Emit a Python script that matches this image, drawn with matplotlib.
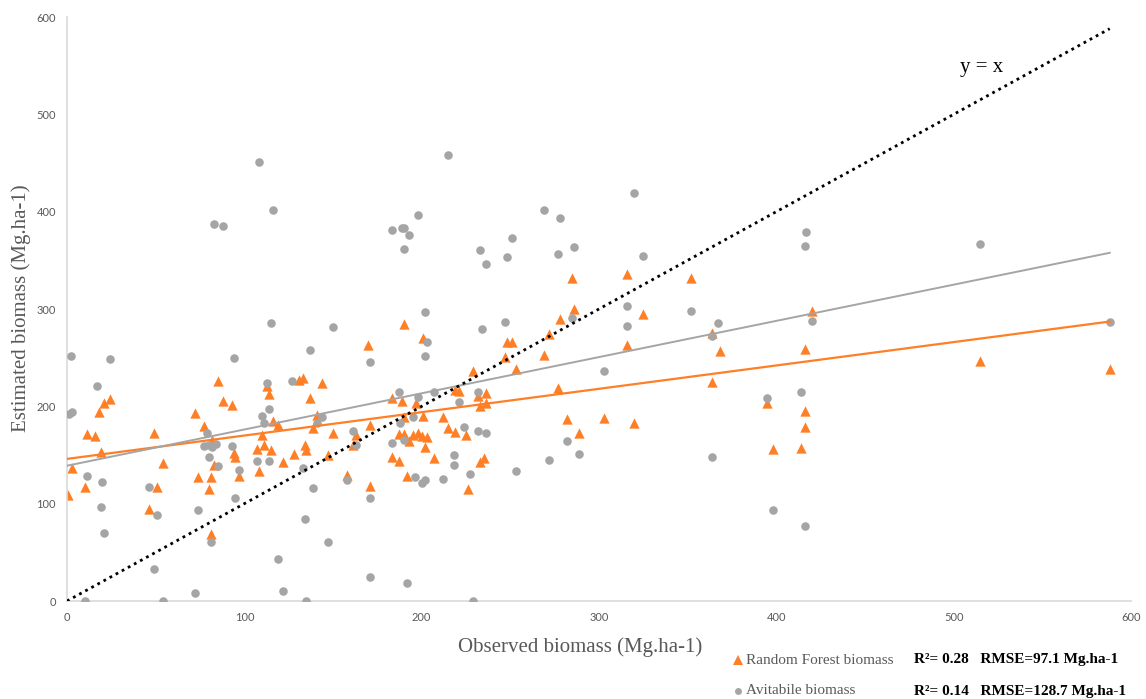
import numpy as np
import matplotlib
matplotlib.use("Agg")
import matplotlib.pyplot as plt
from matplotlib.lines import Line2D

# Random Forest estimates vs observed biomass (Mg/ha)
rf_obs = [0.5, 3, 10, 11, 16, 18, 19, 21, 24, 46, 49, 51, 54, 72, 74, 77, 80, 81, 81, 82,
          83, 85, 88, 93, 94, 95, 97, 107, 108, 110, 111, 113, 114, 115, 116, 119, 122, 128, 131, 133,
          134, 135, 137, 139, 141, 144, 147, 150, 158, 161, 163, 170, 171, 171, 183, 183, 187, 187, 189, 190,
          190, 190, 192, 193, 195, 197, 198, 200, 201, 201, 203, 202, 207, 212, 215, 219, 219, 221, 225, 226,
          229, 232, 233, 235, 233, 236, 236, 247, 248, 251, 253, 269, 272, 277, 278, 282, 285, 286, 289, 303,
          316, 316, 320, 325, 352, 364, 368, 364, 395, 398, 414, 416, 416, 416, 420, 515, 588]
rf_est = [109, 137, 117, 172, 170, 194, 153, 203, 208, 95, 173, 117, 142, 193, 127, 180, 115, 127, 69, 165,
          140, 226, 205, 201, 152, 148, 128, 156, 134, 171, 160, 221, 213, 155, 185, 181, 143, 151, 227, 229,
          160, 155, 209, 178, 191, 224, 150, 173, 129, 160, 171, 263, 181, 118, 148, 209, 144, 172, 205, 285,
          172, 189, 128, 164, 171, 203, 173, 170, 270, 190, 169, 158, 147, 189, 178, 174, 217, 216, 171, 115,
          236, 211, 143, 147, 200, 203, 214, 251, 266, 266, 238, 253, 274, 219, 290, 187, 332, 300, 173, 188,
          336, 263, 183, 295, 332, 275, 257, 225, 203, 156, 157, 179, 195, 259, 298, 247, 238]

# Avitabile map estimates vs observed biomass
av_obs = [2, 24, 17, 1, 3, 11, 20, 19, 21, 10, 46, 51, 49, 54, 72, 74, 79, 77, 80, 82,
          84, 80, 81, 85, 94, 93, 95, 97, 107, 110, 111, 113, 114, 114, 127, 119, 122, 108, 116, 83,
          88, 115, 150, 137, 133, 139, 144, 141, 158, 161, 163, 171, 183, 187, 188, 190, 196, 198, 195, 134,
          147, 135, 171, 171, 192, 200, 202, 202, 203, 207, 212, 218, 218, 221, 224, 227, 229, 232, 232, 236,
          234, 253, 272, 215, 198, 183, 189, 190, 193, 190, 202, 233, 236, 248, 251, 269, 278, 277, 286, 247,
          285, 316, 316, 320, 325, 352, 282, 289, 303, 364, 364, 395, 398, 414, 416, 367, 417, 416, 420, 515,
          588]
av_est = [252, 249, 221, 192, 194, 128, 122, 97, 70, 0, 117, 88, 33, 0, 8, 93, 173, 159, 160, 158,
          161, 148, 61, 139, 250, 159, 106, 135, 144, 190, 183, 224, 197, 144, 226, 43, 10, 451, 402, 387,
          385, 286, 281, 258, 137, 116, 189, 183, 124, 175, 160, 246, 162, 215, 183, 165, 127, 210, 189, 84,
          61, 0, 106, 25, 18, 121, 124, 252, 266, 215, 125, 150, 140, 204, 179, 130, 0, 215, 175, 173,
          279, 134, 145, 458, 397, 381, 383, 383, 376, 362, 297, 361, 346, 353, 373, 402, 394, 356, 364, 287,
          291, 303, 283, 419, 354, 298, 164, 151, 236, 272, 148, 209, 93, 215, 77, 286, 379, 365, 288, 367,
          287]

# linear trendlines (intercept, slope) as shown on the chart
rf_fit = (146, 0.240)
av_fit = (139, 0.372)
x_max = 588

orange = "#FF7F27"
grey = "#A5A5A5"
txt_grey = "#595959"

fig = plt.figure(figsize=(11.46, 6.99), dpi=100)
ax = fig.add_axes([67 / 1146, 98 / 699, 1064 / 1146, 584 / 699])

ax.scatter(rf_obs, rf_est, marker="^", s=55, color=orange, linewidths=0, zorder=2)
ax.scatter(av_obs, av_est, marker="o", s=38, color=grey, linewidths=0, zorder=3)

xs = np.array([0, x_max])
ax.plot(xs, rf_fit[0] + rf_fit[1] * xs, color=orange, lw=1.6, zorder=4)
ax.plot(xs, av_fit[0] + av_fit[1] * xs, color=grey, lw=1.4, zorder=4)
ax.plot(xs, xs, color="black", lw=2, linestyle=(0, (1, 1.5)), zorder=5)
ax.text(516, 548, "y = x", fontsize=15, family="Liberation Serif", ha="center", va="center")

ax.set_xlim(0, 600)
ax.set_ylim(0, 600)
ax.set_xticks(range(0, 601, 100))
ax.set_yticks(range(0, 601, 100))
ax.tick_params(length=0, pad=8, labelsize=8, labelcolor=txt_grey)
for lab in ax.get_xticklabels() + ax.get_yticklabels():
    lab.set_family("Lato")
for side in ["top", "right"]:
    ax.spines[side].set_visible(False)
for side in ["left", "bottom"]:
    ax.spines[side].set_color("#D9D9D9")
    ax.spines[side].set_linewidth(1.2)

ax.set_xlabel("Observed biomass (Mg.ha-1)", fontsize=15, color=txt_grey,
              family="Liberation Serif", labelpad=0, va="center")
ax.xaxis.set_label_coords((580 - 67) / 1064, (601 - 647) / 584)
ax.set_ylabel("Estimated biomass (Mg.ha-1)", fontsize=15, color=txt_grey,
              family="Liberation Serif", va="center")
ax.yaxis.set_label_coords((21 - 67) / 1064, (601 - 308) / 584)

# legend rows below the plot
rows = [("^", orange, 7, "Random Forest biomass", "R²= 0.28   RMSE=97.1 Mg.ha-1", 660),
        ("o", grey, 5, "Avitabile biomass", "R²= 0.14   RMSE=128.7 Mg.ha-1", 691)]
for mk, col, ms, name, stats, py in rows:
    fy = 1 - py / 699
    fig.add_artist(Line2D([738 / 1146], [fy], marker=mk, color=col, markersize=ms,
                          markeredgewidth=0, linestyle="none", transform=fig.transFigure))
    fig.text(746 / 1146, fy, name, fontsize=11, color=txt_grey, family="Liberation Serif",
             ha="left", va="center")
    fig.text(914 / 1146, fy, stats, fontsize=11, color="black", family="Liberation Serif",
             weight="bold", ha="left", va="center")

fig.savefig("out.png", dpi=100)
